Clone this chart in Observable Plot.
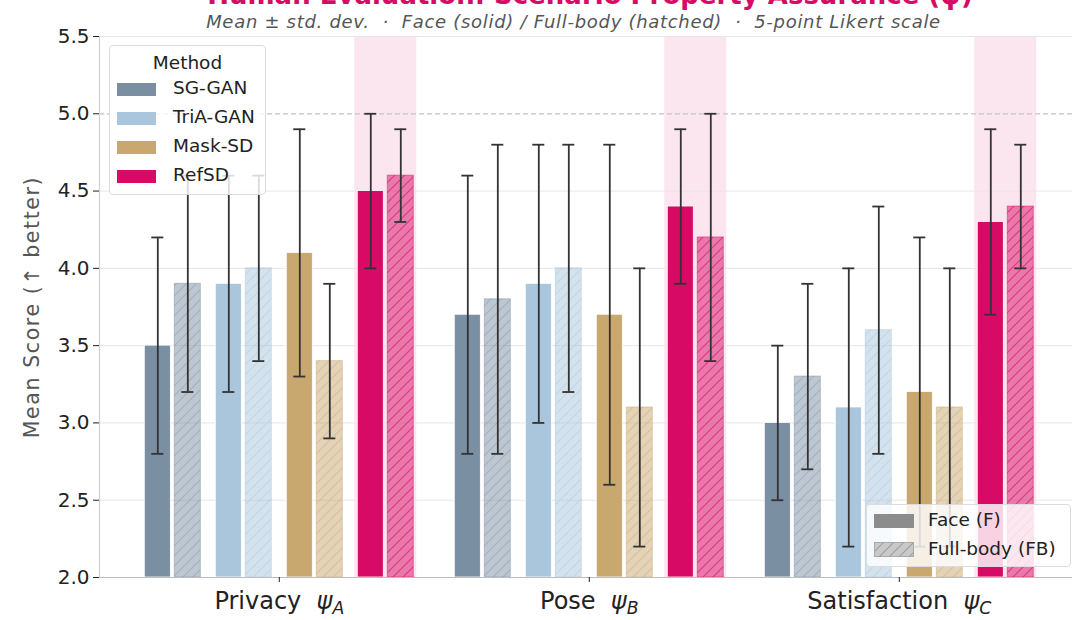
<!DOCTYPE html>
<html><head><meta charset="utf-8">
<script src="https://cdn.jsdelivr.net/npm/d3@7"></script>
<script src="https://cdn.jsdelivr.net/npm/@observablehq/plot@0.6"></script>
<style>
body{margin:0;background:#fff;font-family:"DejaVu Sans",sans-serif;}
#wrap{position:relative;width:1072px;height:620px;overflow:hidden;}
#title{position:absolute;left:0;top:-18px;width:1180px;text-align:center;font-size:26px;line-height:26px;font-weight:bold;color:#d70a65;white-space:nowrap;}
#subtitle{position:absolute;left:0;top:13px;width:1147px;text-align:center;font-size:18px;line-height:18px;letter-spacing:0.7px;font-style:italic;color:#555;white-space:pre;}
#chart{position:absolute;left:0;top:0;}
.legend{position:absolute;background:rgba(255,255,255,0.82);border:1px solid #dcdcdc;border-radius:4px;box-sizing:border-box;font-size:18.5px;color:#222;}
.legend .ttl{position:absolute;left:0;width:100%;text-align:center;}
.legend .row{position:absolute;white-space:nowrap;}
.legend .sw{position:absolute;}
</style></head>
<body>
<svg width="0" height="0" style="position:absolute">
  <defs id="patdefs"></defs>
</svg>
<div id="wrap">
  <div id="chart"></div>
  <div id="title"></div>
  <div id="subtitle"></div>
  <div id="legMethod" class="legend" style="left:109px;top:45px;width:157px;height:150px;"></div>
  <div id="legVariant" class="legend" style="left:866px;top:504px;width:205px;height:63px;"></div>
</div>
<script>
// ---------------- data ----------------
const titleText = "Human Evaluation: Scenario Property Assurance (ψ)";
const subtitleText = "Mean ± std. dev.  ·  Face (solid) / Full-body (hatched)  ·  5-point Likert scale";
const yLabel = "Mean Score (↑ better)";
const categories = ["Privacy", "Pose", "Satisfaction"];
const psiSubs = ["A", "B", "C"];
const methods = ["SG-GAN", "TriA-GAN", "Mask-SD", "RefSD"];
const methodColors = ["#7b8fa3", "#a9c6dc", "#c9a86f", "#d70a65"];
const variants = ["Face (F)", "Full-body (FB)"];
// per method (rows) x category (cols)
const faceMean = [[3.5, 3.7, 3.0], [3.9, 3.9, 3.1], [4.1, 3.7, 3.2], [4.5, 4.4, 4.3]];
const faceStd  = [[0.7, 0.9, 0.5], [0.7, 0.9, 0.9], [0.8, 1.1, 1.0], [0.5, 0.5, 0.6]];
const bodyMean = [[3.9, 3.8, 3.3], [4.0, 4.0, 3.6], [3.4, 3.1, 3.1], [4.6, 4.2, 4.4]];
const bodyStd  = [[0.7, 1.0, 0.6], [0.6, 0.8, 0.8], [0.5, 0.9, 0.9], [0.3, 0.8, 0.4]];
const yTicks = [2.0, 2.5, 3.0, 3.5, 4.0, 4.5, 5.0, 5.5];
const highlightMethod = "RefSD";

// ---------------- layout ----------------
const methodStep = 0.229, pairOff = 0.0484, barW = 0.084, capHalf = 0.0194, hlHalf = 0.1;
const xDomain = [-0.58, 2.58];

const rows = [];
categories.forEach((c, ci) => methods.forEach((m, mi) => {
  const base = ci + (mi - 1.5) * methodStep;
  rows.push({cat: c, ci, method: m, mi, variant: "F", mean: faceMean[mi][ci], std: faceStd[mi][ci], x: base - pairOff});
  rows.push({cat: c, ci, method: m, mi, variant: "FB", mean: bodyMean[mi][ci], std: bodyStd[mi][ci], x: base + pairOff});
}));
const faceRows = rows.filter(d => d.variant === "F");
const bodyRows = rows.filter(d => d.variant === "FB");
const hlIdx = methods.indexOf(highlightMethod);
const hlRows = categories.map((c, ci) => ({x: ci + (hlIdx - 1.5) * methodStep}));
const caps = rows.flatMap(d => [{x: d.x, y: d.mean - d.std}, {x: d.x, y: d.mean + d.std}]);

// hatch patterns
const defs = d3.select("#patdefs");
function addHatch(id, color, op) {
  const p = defs.append("pattern").attr("id", id).attr("patternUnits", "userSpaceOnUse")
    .attr("width", 10).attr("height", 10);
  p.append("path").attr("d", "M-2,2 L2,-2 M0,10 L10,0 M8,12 L12,8")
    .attr("stroke", color).attr("stroke-opacity", op).attr("stroke-width", 1.1).attr("fill", "none");
}
methodColors.forEach((c, i) => addHatch("hatch" + i, c, i === hlIdx ? 0.6 : 0.42));
addHatch("hatchLeg", "#999", 0.9);

const bar = (extra) => ({x1: d => d.x - barW / 2, x2: d => d.x + barW / 2, y1: 2, y2: "mean", ...extra});

const chart = Plot.plot({
  width: 1072, height: 620,
  marginLeft: 99, marginTop: 36, marginBottom: 43, marginRight: 0,
  style: {fontFamily: "DejaVu Sans, sans-serif", background: "transparent", color: "#222"},
  x: {type: "linear", domain: xDomain, range: [99, 99 + 310 * (xDomain[1] - xDomain[0])]},
  y: {domain: [2, 5.5]},
  marks: [
    Plot.rect(hlRows, {x1: d => d.x - hlHalf, x2: d => d.x + hlHalf, y1: 2, y2: 5.5, fill: "#fbe6f0"}),
    Plot.ruleY(yTicks.filter(v => v !== 5 && v !== 2), {stroke: "#e6e6e6", strokeWidth: 1}),
    Plot.ruleY([5], {stroke: "#c4c4c4", strokeWidth: 1.2, strokeDasharray: "5,3"}),
    Plot.rect(faceRows, bar({fill: d => methodColors[d.mi], stroke: "white", strokeWidth: 0.8})),
    Plot.rect(bodyRows, bar({fill: d => methodColors[d.mi], fillOpacity: 0.5, stroke: d => methodColors[d.mi], strokeOpacity: 0.45, strokeWidth: 1})),
    ...methods.map((m, mi) => Plot.rect(bodyRows.filter(d => d.mi === mi), bar({fill: `url(#hatch${mi})`}))),
    Plot.ruleX(rows, {x: "x", y1: d => d.mean - d.std, y2: d => d.mean + d.std, stroke: "#333", strokeWidth: 1.8}),
    Plot.ruleY(caps, {y: "y", x1: d => d.x - capHalf, x2: d => d.x + capHalf, stroke: "#333", strokeWidth: 1.8}),
    Plot.ruleX([xDomain[0]], {stroke: "#cfcfcf", strokeWidth: 1.2}),
    Plot.ruleY([2], {stroke: "#bdbdbd", strokeWidth: 1.2}),
    Plot.axisY({ticks: yTicks, tickFormat: d3.format(".1f"), fontSize: 20, tickSize: 6, tickPadding: 4, label: null, color: "#222"}),
    Plot.text([yLabel], {frameAnchor: "left", textAnchor: "middle", dx: -67, rotate: -90, fontSize: 20.5, fill: "#555", text: d => d}),
    Plot.axisX({ticks: [0, 1, 2], tickFormat: i => categories[i], fontSize: 24, tickSize: 5, tickPadding: 9, label: null, color: "#222"})
  ]
});
document.getElementById("chart").appendChild(chart);

// y label letter spacing
d3.select(chart).selectAll("text").filter(function() { return this.textContent === yLabel; })
  .style("letter-spacing", "1.6px");

// x tick labels with italic psi + subscript
d3.select(chart).selectAll('g[aria-label="x-axis tick label"] text').each(function() {
  const t = d3.select(this);
  const idx = categories.indexOf(t.text());
  if (idx < 0) return;
  t.text(null);
  t.append("tspan").text(categories[idx] + "\u00a0\u00a0");
  t.append("tspan").attr("font-style", "italic").text("ψ");
  t.append("tspan").attr("font-style", "italic").attr("font-size", "0.72em").attr("dy", "0.3em").text(psiSubs[idx]);
});

document.getElementById("title").textContent = titleText;
document.getElementById("subtitle").textContent = subtitleText;

// legends
const lm = document.getElementById("legMethod");
lm.innerHTML = `<div class="ttl" style="top:6px;">Method</div>` + methods.map((m, i) =>
  `<div class="sw" style="left:7px;top:${37 + i * 29}px;width:39px;height:13px;background:${methodColors[i]}"></div>` +
  `<div class="row" style="left:63px;top:${31 + i * 29}px;">${m}</div>`).join("");
const lv = document.getElementById("legVariant");
lv.innerHTML =
  `<div class="sw" style="left:7px;top:9px;width:40px;height:14px;background:#8c8c8c"></div>` +
  `<div class="row" style="left:61px;top:4px;">${variants[0]}</div>` +
  `<svg class="sw" style="left:7px;top:37px;" width="40" height="15"><rect x="0.5" y="0.5" width="39" height="14" fill="#c9c9c9" stroke="#aaa"/><rect x="0.5" y="0.5" width="39" height="14" fill="url(#hatchLeg)"/></svg>` +
  `<div class="row" style="left:61px;top:33px;">${variants[1]}</div>`;
</script>
</body></html>
